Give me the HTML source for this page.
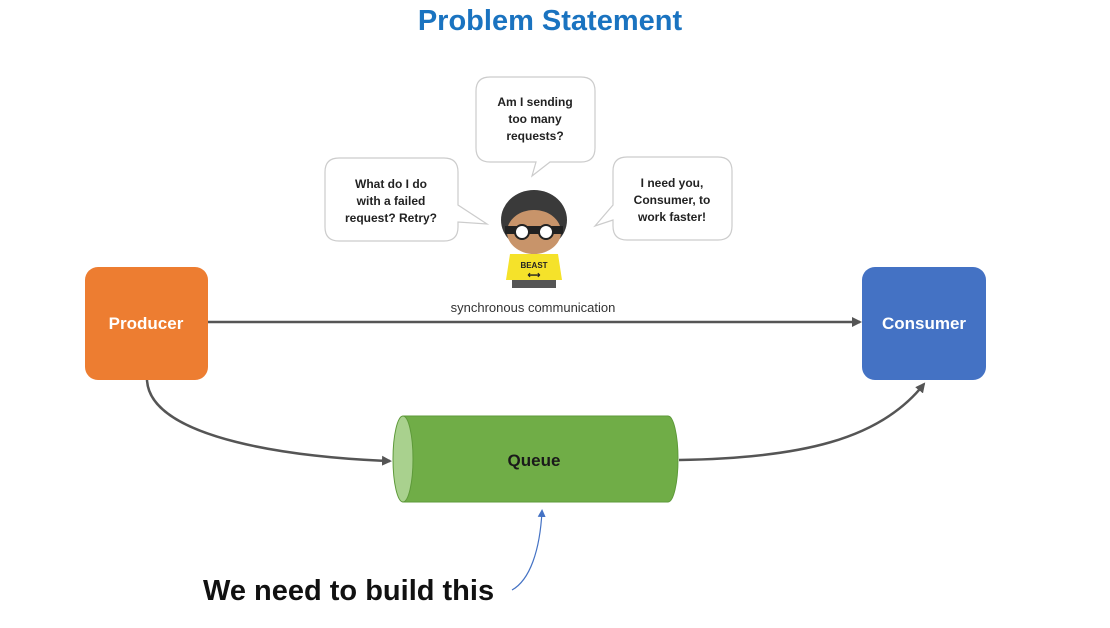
<!DOCTYPE html>
<html><head><style>
body{margin:0;background:#fff;}
svg{display:block;font-family:"Liberation Sans",sans-serif;}
</style></head><body>
<svg width="1110" height="628" viewBox="0 0 1110 628">
<defs>
<marker id="ah" markerWidth="10" markerHeight="10" refX="8" refY="5" orient="auto" markerUnits="userSpaceOnUse"><path d="M0,0 L10,5 L0,10 z" fill="#555"/></marker>
<marker id="bh" markerWidth="8" markerHeight="8" refX="6" refY="4" orient="auto" markerUnits="userSpaceOnUse"><path d="M0,0 L8,4 L0,8 z" fill="#4472c4"/></marker>
</defs>
<text x="550" y="30" text-anchor="middle" font-size="29" font-weight="bold" fill="#1a73c0">Problem Statement</text>

<g fill="#fff" stroke="#ccc" stroke-width="1.2">
<path d="M490,77 H581 Q595,77 595,91 V148 Q595,162 581,162 H550 L532,176 L536,162 H490 Q476,162 476,148 V91 Q476,77 490,77 z"/>
<path d="M339,158 H444 Q458,158 458,172 V205 L487,224 L458,222 V227 Q458,241 444,241 H339 Q325,241 325,227 V172 Q325,158 339,158 z"/>
<path d="M627,157 H718 Q732,157 732,171 V226 Q732,240 718,240 H627 Q613,240 613,226 V220 L595,226 L613,205 V171 Q613,157 627,157 z"/>
</g>
<g font-size="12" font-weight="bold" fill="#222" text-anchor="middle">
<text x="535" y="106">Am I sending</text><text x="535" y="123">too many</text><text x="535" y="140">requests?</text>
<text x="391" y="188">What do I do</text><text x="391" y="205">with a failed</text><text x="391" y="222">request? Retry?</text>
<text x="672" y="187">I need you,</text><text x="672" y="204">Consumer, to</text><text x="672" y="221">work faster!</text>
</g>

<g>
<ellipse cx="534" cy="220" rx="33" ry="30" fill="#3a3a3a"/>
<ellipse cx="534" cy="232" rx="27" ry="22" fill="#c8946a"/>
<rect x="505" y="226" width="58" height="8" fill="#222"/>
<circle cx="522" cy="232" r="7" fill="#fff" stroke="#222" stroke-width="2"/>
<circle cx="546" cy="232" r="7" fill="#fff" stroke="#222" stroke-width="2"/>
<path d="M510,254 H558 L562,280 H506 z" fill="#f5e22a"/>
<rect x="512" y="280" width="44" height="8" fill="#555"/>
<text x="534" y="268" font-size="8" font-weight="bold" text-anchor="middle" fill="#222">BEAST</text>
<text x="534" y="278" font-size="9" font-weight="bold" text-anchor="middle" fill="#222">⟷</text>
</g>

<rect x="85" y="267" width="123" height="113" rx="13" fill="#ed7d31"/>
<text x="146" y="329" font-size="17" font-weight="bold" fill="#fff" text-anchor="middle">Producer</text>
<rect x="862" y="267" width="124" height="113" rx="13" fill="#4472c4"/>
<text x="924" y="329" font-size="17" font-weight="bold" fill="#fff" text-anchor="middle">Consumer</text>

<line x1="208" y1="322" x2="860" y2="322" stroke="#555" stroke-width="2.5" marker-end="url(#ah)"/>
<text x="533" y="312" font-size="13" fill="#333" text-anchor="middle">synchronous communication</text>

<path d="M403,416 H668 A10,43 0 0 1 668,502 H403 z" fill="#70ad47" stroke="#5e9a3a"/>
<ellipse cx="403" cy="459" rx="10" ry="43" fill="#a9d18e" stroke="#5e9a3a"/>
<text x="534" y="466" font-size="17" font-weight="bold" fill="#1a1a1a" text-anchor="middle">Queue</text>

<path d="M147,380 C150,440 300,458 390,461" fill="none" stroke="#555" stroke-width="2.5" marker-end="url(#ah)"/>
<path d="M679,460 C800,458 880,440 924,384" fill="none" stroke="#555" stroke-width="2.5" marker-end="url(#ah)"/>

<path d="M512,590 C530,580 540,550 542,511" fill="none" stroke="#4472c4" stroke-width="1.2" marker-end="url(#bh)"/>
<text x="203" y="600" font-size="29" font-weight="bold" fill="#111">We need to build this</text>
</svg>
</body></html>
